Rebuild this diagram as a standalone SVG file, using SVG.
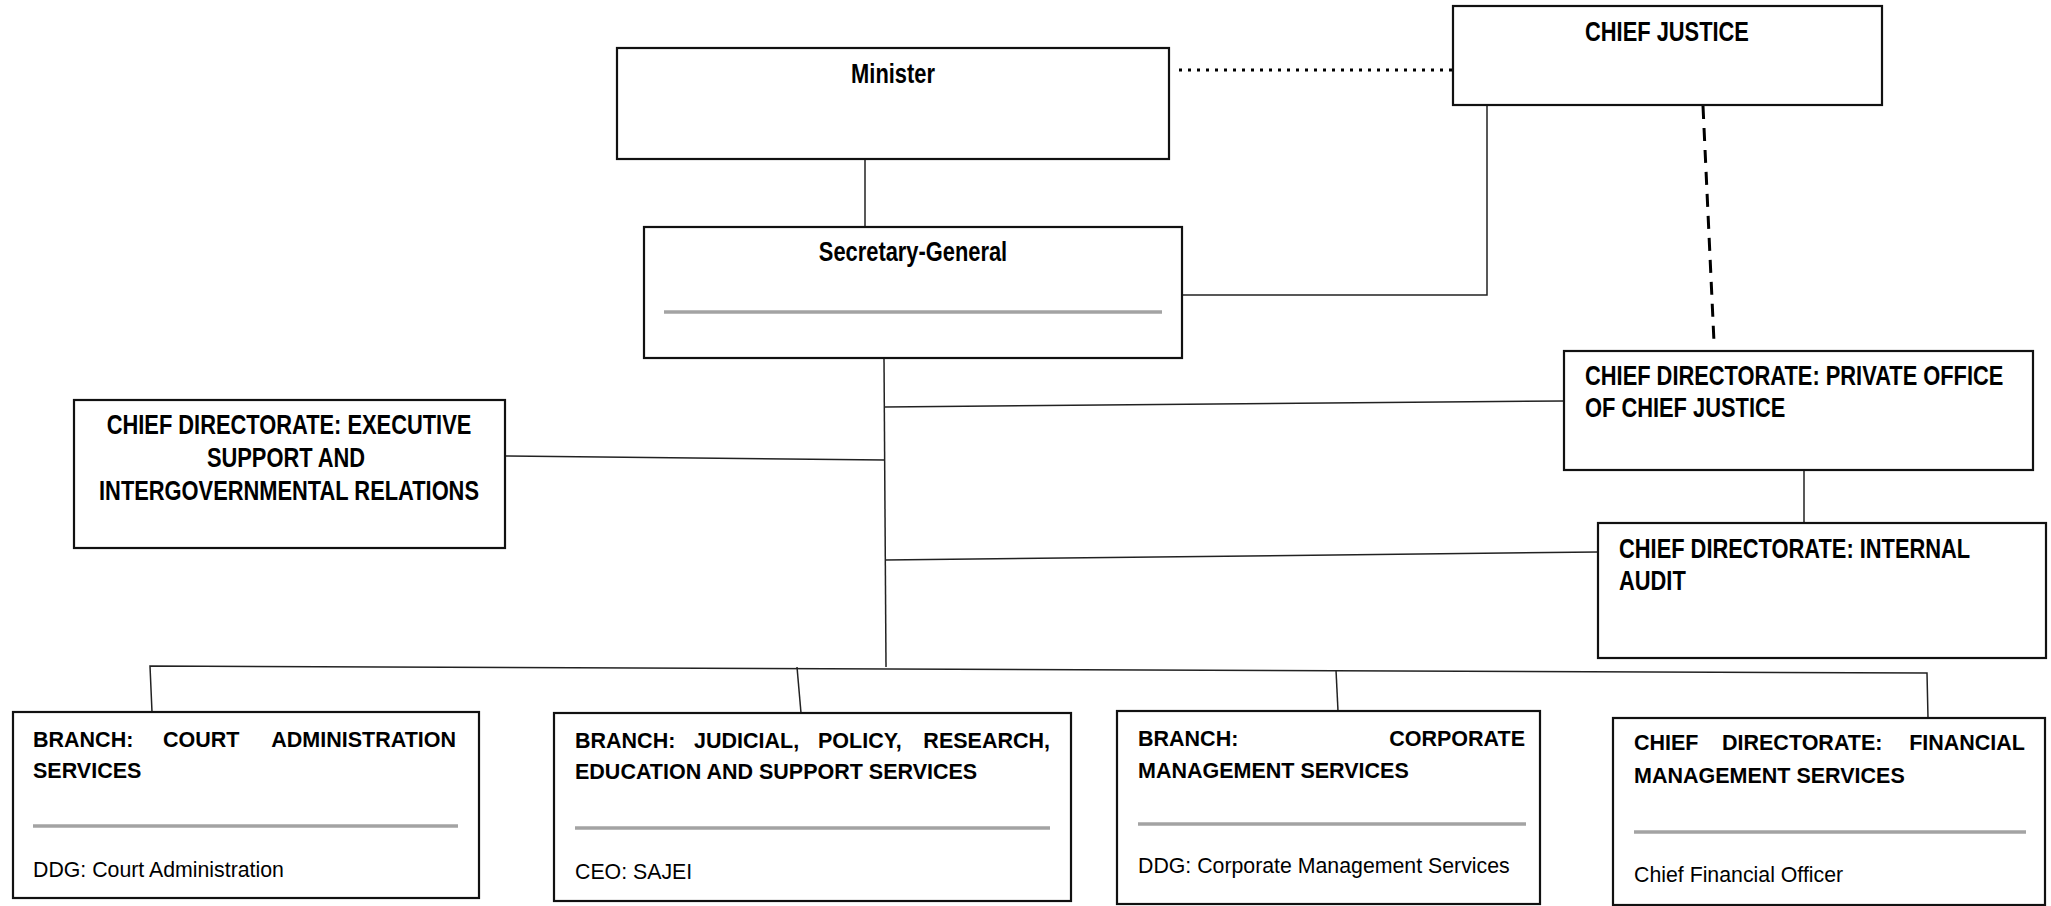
<svg xmlns="http://www.w3.org/2000/svg" width="2051" height="906" viewBox="0 0 2051 906">
<style>
.box{fill:#fff;stroke:#111;stroke-width:2.2}
.sep{stroke:#a3a3a3;stroke-width:3.5;fill:none}
.ln{stroke:#222;stroke-width:1.5;fill:none}
.top{font-family:"Liberation Sans",Arial,sans-serif;font-weight:bold;font-size:27px;fill:#000}
.bb{font-family:"Liberation Sans",Arial,sans-serif;font-weight:bold;font-size:21.5px;fill:#000}
.rg{font-family:"Liberation Sans",Arial,sans-serif;font-size:21.3px;fill:#000}
</style>
<rect width="2051" height="906" fill="#fff"/>
<g id="connectors">
<line x1="1179" y1="70" x2="1453" y2="70" stroke="#000" stroke-width="3" stroke-dasharray="3 6"/>
<line class="ln" x1="865" y1="159" x2="865" y2="227"/>
<polyline class="ln" points="1487,105 1487,295 1182,295"/>
<line x1="1703" y1="106" x2="1714" y2="342" stroke="#000" stroke-width="3" stroke-dasharray="13 9"/>
<line class="ln" x1="884" y1="358" x2="886" y2="667"/>
<line class="ln" x1="885" y1="407" x2="1564" y2="401"/>
<line class="ln" x1="505" y1="456" x2="885" y2="460"/>
<line class="ln" x1="885" y1="560" x2="1598" y2="552"/>
<line class="ln" x1="1804" y1="470" x2="1804" y2="523"/>
<polyline class="ln" points="152,712 150,666 1927,673 1928,718"/>
<line class="ln" x1="797" y1="667" x2="801" y2="713"/>
<line class="ln" x1="1336" y1="670" x2="1338" y2="711"/>
</g>
<g id="minister">
<rect class="box" x="617" y="48" width="552" height="111"/>
<text class="top" transform="translate(893,83) scale(0.81,1)" text-anchor="middle">Minister</text>
</g>
<g id="chief-justice">
<rect class="box" x="1453" y="6" width="429" height="99"/>
<text class="top" transform="translate(1667,41) scale(0.81,1)" text-anchor="middle">CHIEF JUSTICE</text>
</g>
<g id="secretary-general">
<rect class="box" x="644" y="227" width="538" height="131"/>
<text class="top" transform="translate(913,261) scale(0.81,1)" text-anchor="middle">Secretary-General</text>
<line class="sep" x1="664" y1="312" x2="1162" y2="312"/>
</g>
<g id="executive-support">
<rect class="box" x="74" y="400" width="431" height="148"/>
<text class="top" transform="translate(289,434) scale(0.81,1)" text-anchor="middle">CHIEF DIRECTORATE: EXECUTIVE</text>
<text class="top" transform="translate(286,467) scale(0.81,1)" text-anchor="middle">SUPPORT AND</text>
<text class="top" transform="translate(289,500) scale(0.81,1)" text-anchor="middle">INTERGOVERNMENTAL RELATIONS</text>
</g>
<g id="private-office">
<rect class="box" x="1564" y="351" width="469" height="119"/>
<text class="top" transform="translate(1585,385) scale(0.81,1)">CHIEF DIRECTORATE: PRIVATE OFFICE</text>
<text class="top" transform="translate(1585,417) scale(0.81,1)">OF CHIEF JUSTICE</text>
</g>
<g id="internal-audit">
<rect class="box" x="1598" y="523" width="448" height="135"/>
<text class="top" transform="translate(1619,558) scale(0.81,1)">CHIEF DIRECTORATE: INTERNAL</text>
<text class="top" transform="translate(1619,590) scale(0.81,1)">AUDIT</text>
</g>
<g id="court-administration">
<rect class="box" x="13" y="712" width="466" height="186"/>
<text class="bb" y="747"><tspan x="33">BRANCH:</tspan><tspan x="163">COURT</tspan><tspan x="456" text-anchor="end">ADMINISTRATION</tspan></text>
<text class="bb" x="33" y="778">SERVICES</text>
<line class="sep" x1="33" y1="826" x2="458" y2="826"/>
<text class="rg" x="33" y="877">DDG: Court Administration</text>
</g>
<g id="judicial">
<rect class="box" x="554" y="713" width="517" height="188"/>
<text class="bb" y="748"><tspan x="575">BRANCH:</tspan><tspan x="694">JUDICIAL,</tspan><tspan x="818">POLICY,</tspan><tspan x="1050" text-anchor="end">RESEARCH,</tspan></text>
<text class="bb" x="575" y="779">EDUCATION AND SUPPORT SERVICES</text>
<line class="sep" x1="575" y1="828" x2="1050" y2="828"/>
<text class="rg" x="575" y="879">CEO: SAJEI</text>
</g>
<g id="corporate">
<rect class="box" x="1117" y="711" width="423" height="193"/>
<text class="bb" y="746"><tspan x="1138">BRANCH:</tspan><tspan x="1525" text-anchor="end">CORPORATE</tspan></text>
<text class="bb" x="1138" y="778">MANAGEMENT SERVICES</text>
<line class="sep" x1="1138" y1="824" x2="1526" y2="824"/>
<text class="rg" x="1138" y="873">DDG: Corporate Management Services</text>
</g>
<g id="financial">
<rect class="box" x="1613" y="718" width="432" height="187"/>
<text class="bb" y="750"><tspan x="1634">CHIEF</tspan><tspan x="1722">DIRECTORATE:</tspan><tspan x="2025" text-anchor="end">FINANCIAL</tspan></text>
<text class="bb" x="1634" y="783">MANAGEMENT SERVICES</text>
<line class="sep" x1="1634" y1="832" x2="2026" y2="832"/>
<text class="rg" x="1634" y="882">Chief Financial Officer</text>
</g>
</svg>
